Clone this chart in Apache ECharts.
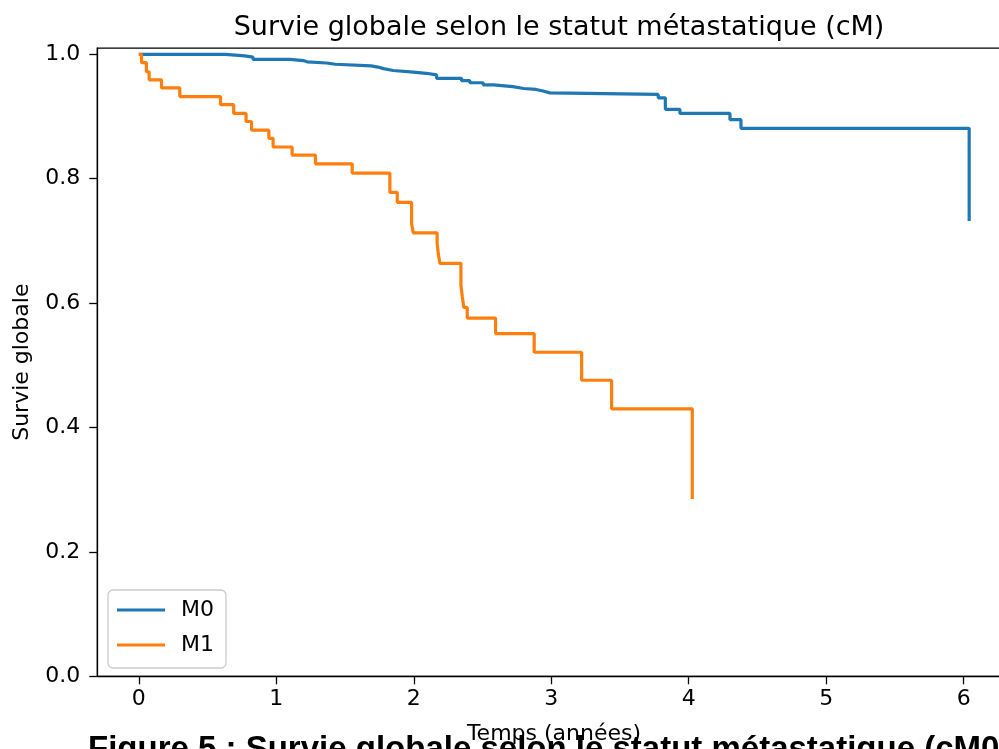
<!DOCTYPE html>
<html>
<head>
<meta charset="utf-8">
<script src="https://cdn.jsdelivr.net/npm/echarts@6/dist/echarts.min.js"></script>
<style>
html,body{margin:0;padding:0;background:#fff;}
#chart{width:999px;height:749px;}
</style>
</head>
<body>
<div id="chart"></div>
<script>
// Kaplan-Meier steps: time (years) and survival after each event
var m0Time = [0, 0.63, 0.77, 0.83, 1.10, 1.195, 1.225, 1.366, 1.43, 1.69, 1.74, 1.78, 1.85, 1.996, 2.09, 2.166, 2.348, 2.408, 2.505, 2.58, 2.72, 2.80, 2.89, 2.94, 2.99, 3.778, 3.83, 3.936, 4.30, 4.38, 6.04];
var m0Surv = [1.0, 0.9975, 0.9955, 0.992, 0.990, 0.988, 0.986, 0.984, 0.9815, 0.9795, 0.977, 0.974, 0.9715, 0.9695, 0.967, 0.9614, 0.9576, 0.9543, 0.951, 0.948, 0.945, 0.9435, 0.941, 0.938, 0.9355, 0.930, 0.9116, 0.905, 0.895, 0.881, 0.732];
var m1Time = [0, 0.02, 0.055, 0.075, 0.165, 0.298, 0.594, 0.69, 0.78, 0.82, 0.946, 0.977, 1.115, 1.285, 1.552, 1.826, 1.88, 1.984, 1.996, 2.17, 2.178, 2.19, 2.343, 2.353, 2.364, 2.389, 2.595, 2.876, 3.221, 3.439, 4.026];
var m1Surv = [1.0, 0.9865, 0.972, 0.959, 0.946, 0.932, 0.919, 0.905, 0.892, 0.878, 0.865, 0.851, 0.838, 0.824, 0.809, 0.778, 0.762, 0.728, 0.713, 0.696, 0.680, 0.664, 0.629, 0.610, 0.593, 0.576, 0.551, 0.521, 0.476, 0.430, 0.285];
var seriesNames = ['M0', 'M1'];
var xTicks = [0, 1, 2, 3, 4, 5, 6];
var yTicks = [0, 0.2, 0.4, 0.6, 0.8, 1.0];
var titleText = 'Survie globale selon le statut métastatique (cM)';
var xName = 'Temps (années)';
var yName = 'Survie globale';
var captionText = 'Figure 5 : Survie globale selon le statut métastatique (cM0 vs cM1)';

function pairs(t, s) { return t.map(function (v, i) { return [v, s[i]]; }); }

var font = 'DejaVu Sans';
var chart = echarts.init(document.getElementById('chart'), null, {renderer: 'canvas'});
chart.setOption({
  animation: false,
  backgroundColor: '#ffffff',
  title: {
    text: titleText,
    left: 554,
    textAlign: 'center',
    top: 9,
    textStyle: {fontFamily: font, fontSize: 27, fontWeight: 'normal', color: '#000'}
  },
  grid: {
    left: 97.3, right: -11.7, top: 48.1, bottom: 72.7,
    outerBoundsMode: 'none', containLabel: false,
    show: true, borderColor: '#000', borderWidth: 1.3, backgroundColor: 'transparent'
  },
  legend: {
    orient: 'vertical',
    left: 108, top: 590,
    data: seriesNames,
    icon: 'rect',
    itemWidth: 48, itemHeight: 3,
    itemGap: 13,
    padding: [9, 12, 12, 9],
    backgroundColor: 'rgba(255,255,255,0.8)',
    borderColor: '#cccccc', borderWidth: 1.3, borderRadius: 5,
    textStyle: {fontFamily: font, fontSize: 22, color: '#000', padding: [0, 0, 0, 11]}
  },
  xAxis: {
    type: 'value', min: -0.302, max: 6.342,
    name: xName, nameLocation: 'middle', nameGap: 47,
    nameTextStyle: {fontFamily: font, fontSize: 22, color: '#000'},
    axisLine: {show: true, onZero: false, lineStyle: {color: '#000', width: 1.3}},
    axisTick: {show: true, inside: false, length: 8, lineStyle: {color: '#000', width: 1.3}, customValues: xTicks},
    axisLabel: {fontFamily: font, fontSize: 22, color: '#000', margin: 12, customValues: xTicks,
      formatter: function (v) { return String(v); }},
    splitLine: {show: false}
  },
  yAxis: {
    type: 'value', min: 0, max: 1.01,
    name: yName, nameLocation: 'middle', nameRotate: 90, nameGap: 64,
    nameTextStyle: {fontFamily: font, fontSize: 22, color: '#000'},
    axisLine: {show: true, onZero: false, lineStyle: {color: '#000', width: 1.3}},
    axisTick: {show: true, inside: false, length: 8, lineStyle: {color: '#000', width: 1.3}, customValues: yTicks},
    axisLabel: {fontFamily: font, fontSize: 22, color: '#000', margin: 17, customValues: yTicks,
      formatter: function (v) { return v.toFixed(1); }},
    splitLine: {show: false}
  },
  series: [
    {name: seriesNames[0], type: 'line', step: 'end', data: pairs(m0Time, m0Surv),
      symbol: 'none', color: '#1f77b4', lineStyle: {width: 3.2, color: '#1f77b4'}, z: 2},
    {name: seriesNames[1], type: 'line', step: 'end', data: pairs(m1Time, m1Surv),
      symbol: 'none', color: '#ff7f0e', lineStyle: {width: 3.2, color: '#ff7f0e'}, z: 3}
  ],
  graphic: [{
    type: 'text', left: 88, top: 733, z: -1,
    style: {text: captionText, fontFamily: 'Liberation Sans', fontWeight: 'bold', fontSize: 33, fill: '#000'}
  }]
});
</script>
</body>
</html>
